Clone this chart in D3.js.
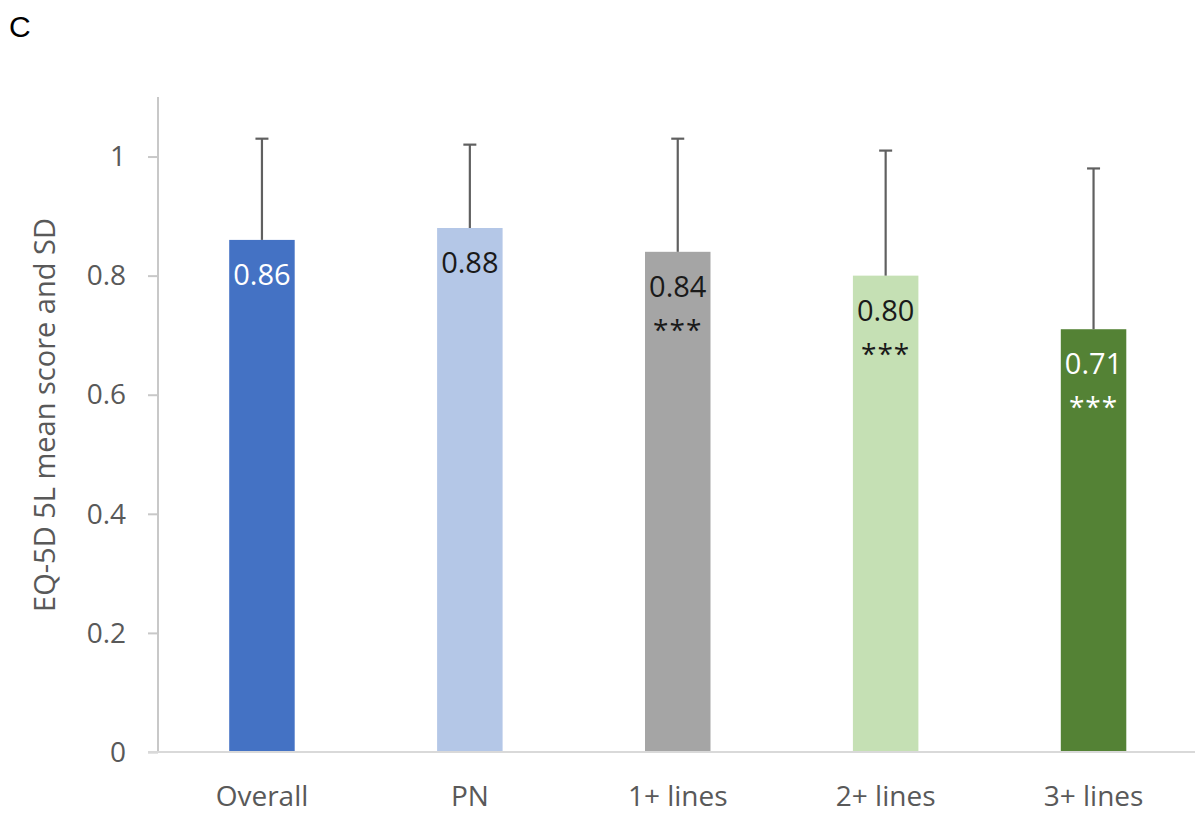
<!DOCTYPE html>
<html>
<head>
<meta charset="utf-8">
<script src="https://cdn.jsdelivr.net/npm/d3@7"></script>
<style>
  html, body { margin: 0; padding: 0; background: #fff; }
  svg { display: block; }
</style>
</head>
<body>
<svg id="chart" width="1195" height="816"></svg>
<script>
// EQ-5D 5L mean score (bar) with +SD error bar per group
const categories = ["Overall", "PN", "1+ lines", "2+ lines", "3+ lines"];
const means      = [0.86, 0.88, 0.84, 0.80, 0.71];
const sds        = [0.17, 0.14, 0.19, 0.21, 0.27];
const valueLabels = ["0.86", "0.88", "0.84", "0.80", "0.71"];
const significance = ["", "", "***", "***", "***"];
const barColors   = ["#4472C4", "#B4C7E7", "#A5A5A5", "#C5E0B4", "#548235"];
const labelColors = ["#ffffff", "#1a1a1a", "#1a1a1a", "#1a1a1a", "#ffffff"];
const yTicks = [0, 0.2, 0.4, 0.6, 0.8, 1];
const yTickLabels = ["0", "0.2", "0.4", "0.6", "0.8", "1"];

const svg = d3.select("#chart");
const font = "'Open Sans', 'Noto Sans', sans-serif";
const textGray = "#595959";

const x = d3.scaleBand()
  .domain(categories)
  .range([158, 1197.5])
  .paddingInner(0.685)
  .paddingOuter(0.3425);

const y = d3.scaleLinear()
  .domain([0, 1.1])
  .range([752, 97]);

// panel letter
svg.append("text")
  .attr("x", 9).attr("y", 37)
  .attr("font-family", "'Liberation Sans', Arial, sans-serif")
  .attr("font-size", 30)
  .attr("fill", "#000")
  .text("C");

// bars
svg.append("g").selectAll("rect")
  .data(categories)
  .join("rect")
  .attr("x", d => x(d))
  .attr("width", x.bandwidth())
  .attr("y", (d, i) => y(means[i]))
  .attr("height", (d, i) => y(0) - y(means[i]))
  .attr("fill", (d, i) => barColors[i]);

// y axis
const yAxis = svg.append("g")
  .attr("transform", `translate(${x.range()[0]},0)`)
  .call(d3.axisLeft(y)
    .tickValues(yTicks)
    .tickFormat((d, i) => yTickLabels[i])
    .tickSizeInner(10)
    .tickSizeOuter(0)
    .tickPadding(22));
yAxis.select(".domain").attr("stroke", "#C8C8C8").attr("stroke-width", 2)
  .attr("d", `M0,${y(0)}V${y(1.1)}`);
yAxis.selectAll(".tick line").attr("stroke", "#C8C8C8").attr("stroke-width", 2);
yAxis.selectAll(".tick text")
  .attr("font-family", font)
  .attr("font-size", 28)
  .attr("fill", textGray)
  .attr("dy", "0.33em");

// x axis baseline and category labels
const xAxis = svg.append("g")
  .attr("transform", `translate(0,${y(0)})`)
  .call(d3.axisBottom(x).tickSize(0).tickPadding(34));
xAxis.select(".domain").attr("stroke", "#D9D9D9").attr("stroke-width", 2)
  .attr("d", `M148,0H1195`);
xAxis.selectAll(".tick text")
  .attr("font-family", font)
  .attr("font-size", 28)
  .attr("fill", textGray);

// y axis title
svg.append("text")
  .attr("transform", `translate(55,415) rotate(-90)`)
  .attr("text-anchor", "middle")
  .attr("font-family", font)
  .attr("font-size", 29)
  .attr("fill", textGray)
  .text("EQ-5D 5L mean score and SD");

// error bars (+SD)
const err = svg.append("g").attr("stroke", "#606060").attr("stroke-width", 2.2);
categories.forEach((c, i) => {
  const cx = x(c) + x.bandwidth() / 2;
  err.append("line")
    .attr("x1", cx).attr("x2", cx)
    .attr("y1", y(means[i])).attr("y2", y(means[i] + sds[i]));
  err.append("line")
    .attr("x1", cx - 6.5).attr("x2", cx + 6.5)
    .attr("y1", y(means[i] + sds[i])).attr("y2", y(means[i] + sds[i]));
});

// value labels inside bars
const labels = svg.append("g")
  .attr("font-family", font)
  .attr("text-anchor", "middle");
categories.forEach((c, i) => {
  const cx = x(c) + x.bandwidth() / 2;
  const base = y(means[i]) + 45;
  labels.append("text")
    .attr("x", cx).attr("y", base)
    .attr("font-size", 29)
    .attr("fill", labelColors[i])
    .text(valueLabels[i]);
  if (significance[i]) {
    labels.append("text")
      .attr("x", cx).attr("y", base + 43)
      .attr("font-size", 28)
      .attr("letter-spacing", 1)
      .attr("fill", labelColors[i])
      .text(significance[i]);
  }
});
</script>
</body>
</html>
